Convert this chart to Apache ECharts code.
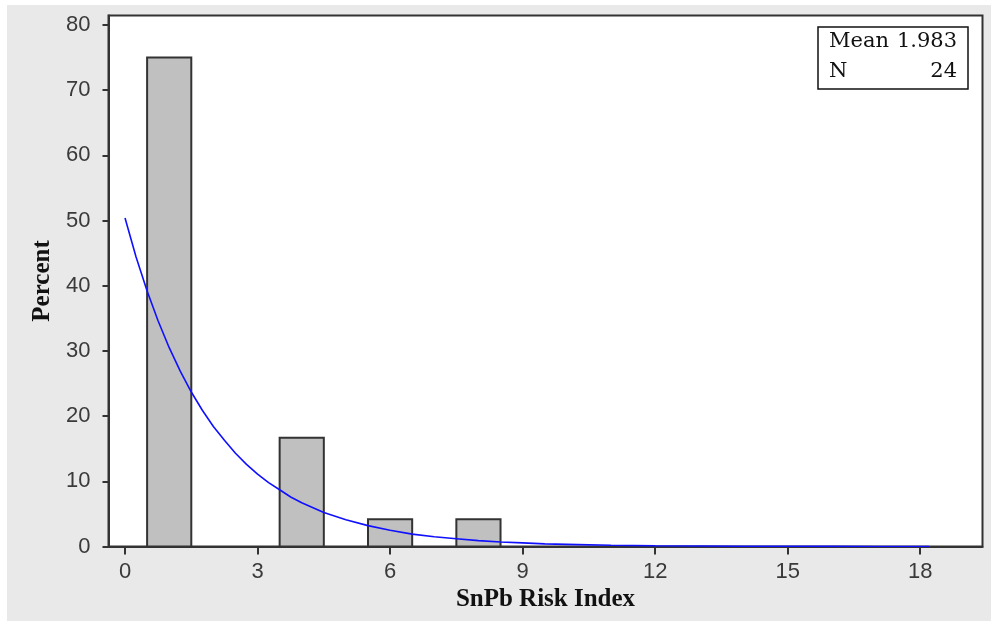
<!DOCTYPE html>
<html>
<head>
<meta charset="utf-8">
<script src="https://cdn.jsdelivr.net/npm/echarts@6/dist/echarts.min.js"></script>
<style>html,body{margin:0;padding:0;background:#fff;}#c{width:991px;height:621px;}</style>
</head>
<body>
<div id="c"></div>
<script>
// Histogram bins (center, width 1) and percents
const binCenters = [1, 4, 6, 8];
const binWidth = 1;
const binPercents = [75, 16.67, 4.17, 4.17];

// Fitted curve
const curveX = [0, 0.25, 0.5, 0.75, 1, 1.25, 1.5, 1.75, 2, 2.25, 2.5, 2.75, 3, 3.25, 3.5, 3.75, 4, 4.5, 5, 5.5, 6, 6.5, 7, 7.5, 8, 8.5, 9, 9.5, 10, 11, 12, 13, 14, 15, 16, 17, 18.2];
const curveY = [50.4, 44.4, 39.2, 34.6, 30.5, 26.9, 23.7, 20.9, 18.4, 16.3, 14.3, 12.6, 11.1, 9.8, 8.7, 7.6, 6.7, 5.2, 4.1, 3.2, 2.5, 1.9, 1.5, 1.2, 0.9, 0.7, 0.55, 0.4, 0.33, 0.2, 0.12, 0.07, 0.04, 0.03, 0.02, 0.01, 0.01];

// Tick labels
const xTicks = [0, 3, 6, 9, 12, 15, 18];
const yTicks = [0, 10, 20, 30, 40, 50, 60, 70, 80];

// Stats box
const statNames = ['Mean', 'N'];
const statValues = ['1.983', '24'];

const xName = 'SnPb Risk Index';
const yName = 'Percent';

const chart = echarts.init(document.getElementById('c'), null, {renderer: 'canvas'});

const barData = binCenters.map((c, i) => [c - binWidth / 2, c + binWidth / 2, binPercents[i]]);
const lineData = curveX.map((x, i) => [x, curveY[i]]);

const axisColor = '#333333';
const labelFont = {fontFamily: 'Liberation Sans', fontSize: 22, color: '#3a3a3a'};

const option = {
  backgroundColor: '#e9e9e9',
  animation: false,
  grid: {
    left: 108.5, right: 8.5, top: 15.5, bottom: 74.5,
    show: true, backgroundColor: '#ffffff', borderColor: axisColor, borderWidth: 2
  },
  xAxis: {
    type: 'value', min: -0.374, max: 19.41,
    name: xName, nameLocation: 'middle', nameGap: 38,
    nameTextStyle: {fontFamily: 'Liberation Serif', fontWeight: 'bold', fontSize: 25, color: '#111'},
    axisLine: {show: true, onZero: false, lineStyle: {color: axisColor, width: 2}},
    axisTick: {show: true, length: 8, lineStyle: {color: axisColor, width: 2}, customValues: xTicks},
    axisLabel: Object.assign({margin: 14, customValues: xTicks}, labelFont),
    splitLine: {show: false}
  },
  yAxis: {
    type: 'value', min: 0, max: 81.46,
    name: yName, nameLocation: 'middle', nameGap: 52, nameRotate: 90,
    nameTextStyle: {fontFamily: 'Liberation Serif', fontWeight: 'bold', fontSize: 25, color: '#111'},
    axisLine: {show: true, onZero: false, lineStyle: {color: axisColor, width: 2}},
    axisTick: {show: true, length: 6, lineStyle: {color: axisColor, width: 2}, customValues: yTicks},
    axisLabel: Object.assign({margin: 18, customValues: yTicks}, labelFont),
    splitLine: {show: false}
  },
  series: [
    {
      type: 'custom',
      data: barData,
      renderItem: function (params, api) {
        const p0 = api.coord([api.value(0), 0]);
        const p1 = api.coord([api.value(1), api.value(2)]);
        return {
          type: 'rect',
          shape: {x: p0[0], y: p1[1], width: p1[0] - p0[0], height: p0[1] - p1[1]},
          style: {fill: '#c0c0c0', stroke: '#333333', lineWidth: 2}
        };
      },
      z: 2
    },
    {
      type: 'line',
      data: lineData,
      smooth: false,
      showSymbol: false,
      lineStyle: {color: '#1010ff', width: 1.6},
      z: 3
    }
  ],
  graphic: [
    {type: 'rect', shape: {x: 0, y: 0, width: 991, height: 5}, style: {fill: '#ffffff'}, silent: true},
    {type: 'rect', shape: {x: 0, y: 0, width: 7, height: 621}, style: {fill: '#ffffff'}, silent: true},
    {
      type: 'group', z: 100,
      children: [
        {type: 'rect', shape: {x: 818, y: 27, width: 150, height: 62}, style: {fill: '#ffffff', stroke: '#111', lineWidth: 1.5}},
        {type: 'text', x: 829, y: 42, style: {text: statNames[0], fontFamily: 'DejaVu Serif', fontSize: 21, fill: '#111', align: 'left', verticalAlign: 'middle'}},
        {type: 'text', x: 957, y: 42, style: {text: statValues[0], fontFamily: 'DejaVu Serif', fontSize: 21, fill: '#111', align: 'right', verticalAlign: 'middle'}},
        {type: 'text', x: 829, y: 72, style: {text: statNames[1], fontFamily: 'DejaVu Serif', fontSize: 21, fill: '#111', align: 'left', verticalAlign: 'middle'}},
        {type: 'text', x: 957, y: 72, style: {text: statValues[1], fontFamily: 'DejaVu Serif', fontSize: 21, fill: '#111', align: 'right', verticalAlign: 'middle'}}
      ]
    }
  ]
};
chart.setOption(option);
</script>
</body>
</html>
